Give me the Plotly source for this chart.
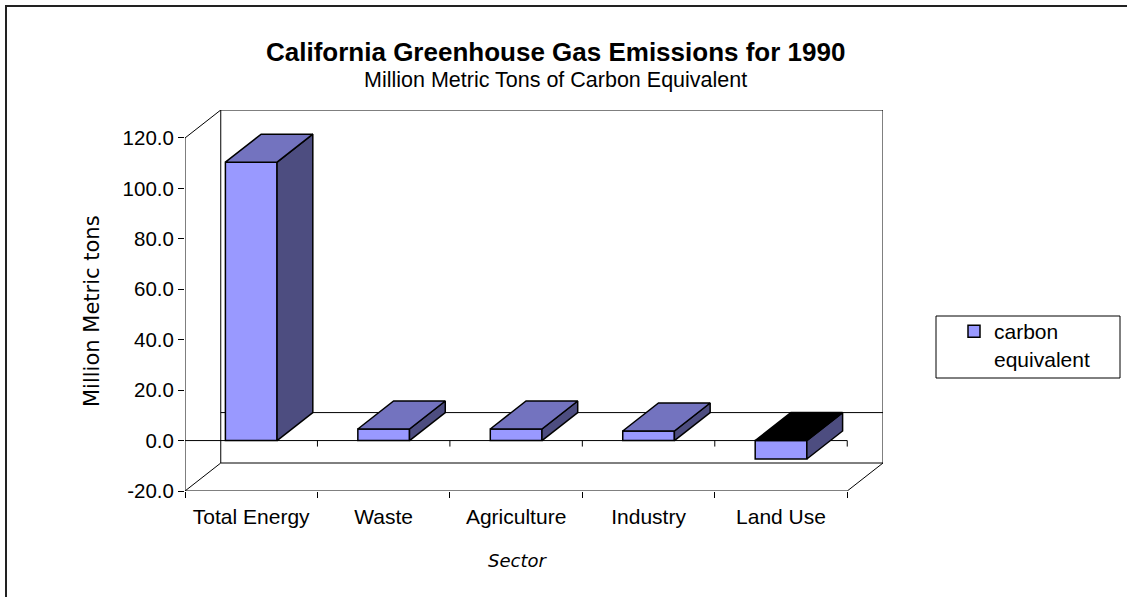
import plotly.graph_objects as go

# ---------------- data ----------------
categories = ["Total Energy", "Waste", "Agriculture", "Industry", "Land Use"]
carbon_equivalent = [110.4, 4.6, 4.6, 3.8, -7.3]
y_tick_values = [-20, 0, 20, 40, 60, 80, 100, 120]
y_tick_labels = ["-20.0", "0.0", "20.0", "40.0", "60.0", "80.0", "100.0", "120.0"]
series_name = "carbon<br>equivalent"
title_text = "California Greenhouse Gas Emissions for 1990"
subtitle_text = "Million Metric Tons of Carbon Equivalent"
y_title = "Million Metric tons"
x_title = "Sector"

# ---------------- style / geometry ----------------
W, H = 1127, 597
L, R, T, B = 185, 244, 110, 106
PW, PH = W - L - R, H - T - B
DX = 0.27     # 3D depth, x units
DY = 11.1     # 3D depth, y units
BAR_W = 0.39
FRONT, TOPC, SIDE = "#9999FF", "#7373BF", "#4D4D80"
FONT = "Arial, Liberation Sans, sans-serif"
COMIC = "Comic Sans MS, DejaVu Sans, sans-serif"

n = len(categories)
x_pos = list(range(n))
x_lo, x_hi = -0.5, n - 0.5
y_lo, y_hi = min(y_tick_values), max(y_tick_values)
boundaries = [x_lo + k for k in range(n + 1)]
y_per_px = (y_hi + DY - y_lo) / PH
tick_len_units = 6 * y_per_px


def px(xp):
    return (xp - L) / PW


def py(yp):
    return (H - B - yp) / PH


fig = go.Figure()

# front faces: real bars
fig.add_trace(go.Bar(
    x=x_pos, y=carbon_equivalent, width=BAR_W, name=series_name,
    marker=dict(color=FRONT, line=dict(color="black", width=1.5)),
    hoverinfo="skip", showlegend=True,
))

# 3D side and top faces derived from values
for i, v in enumerate(carbon_equivalent):
    top, bot = max(v, 0), min(v, 0)
    xl, xr = i - BAR_W / 2, i + BAR_W / 2
    fig.add_trace(go.Scatter(
        x=[xr, xr, xr + DX, xr + DX, xr],
        y=[bot, top, top + DY, bot + DY, bot],
        fill="toself", fillcolor=SIDE, mode="lines",
        line=dict(color="black", width=1.5),
        showlegend=False, hoverinfo="skip"))
    fig.add_trace(go.Scatter(
        x=[xl, xl + DX, xr + DX, xr, xl],
        y=[top, top + DY, top + DY, top, top],
        fill="toself", fillcolor=TOPC if v >= 0 else "black", mode="lines",
        line=dict(color="black", width=1.5),
        showlegend=False, hoverinfo="skip"))

# invisible trace for the label axis
fig.add_trace(go.Scatter(x=x_pos, y=[None] * n, xaxis="x2", mode="markers",
                         showlegend=False, hoverinfo="skip"))

shapes = []
ln = dict(color="black", width=1)


def seg(x0, y0, x1, y1, line=ln):
    shapes.append(dict(type="line", xref="x", yref="y", x0=x0, y0=y0, x1=x1, y1=y1,
                       line=line, layer="below"))


# back wall
shapes.append(dict(type="rect", xref="x", yref="y", x0=x_lo + DX, y0=y_lo + DY,
                   x1=x_hi + DX, y1=y_hi + DY, line=ln, layer="below"))
seg(x_lo, y_hi, x_lo + DX, y_hi + DY)
seg(x_lo, y_lo, x_lo, y_hi)
seg(x_lo, y_lo, x_hi, y_lo)
seg(x_lo, y_lo, x_lo + DX, y_lo + DY)
seg(x_hi, y_lo, x_hi + DX, y_lo + DY)
# zero plane
seg(x_lo + DX, DY, x_hi + DX, DY)
seg(x_lo, 0, x_hi, 0)
for b in boundaries[1:]:
    seg(b, 0, b, -tick_len_units)

# outer chart border
shapes.append(dict(type="rect", xref="paper", yref="paper", x0=px(6), y0=py(603),
                   x1=px(1133), y1=py(6), line=dict(color="#222222", width=2),
                   layer="below"))
# legend box
shapes.append(dict(type="rect", xref="paper", yref="paper", x0=px(936), y0=py(378),
                   x1=px(1120), y1=py(316), line=dict(color="black", width=1),
                   layer="below"))

annotations = [
    dict(text="<b>" + title_text + "</b>", xref="paper", yref="paper",
         x=px(555), y=py(52), showarrow=False, xanchor="center", yanchor="middle",
         font=dict(family=FONT, size=26, color="black")),
    dict(text=subtitle_text, xref="paper", yref="paper",
         x=px(555), y=py(80), showarrow=False, xanchor="center", yanchor="middle",
         font=dict(family=FONT, size=21.5, color="black")),
    dict(text=y_title, xref="paper", yref="paper", x=px(92), y=py(311),
         showarrow=False, textangle=-90, xanchor="center", yanchor="middle",
         font=dict(family=COMIC, size=21, color="black")),
    dict(text=x_title, xref="paper", yref="paper", x=px(517), y=py(560),
         showarrow=False, xanchor="center", yanchor="middle",
         font=dict(family=COMIC, size=18, color="black", style="italic")),
]

fig.update_layout(
    width=W, height=H, margin=dict(l=L, r=R, t=T, b=B, pad=0),
    paper_bgcolor="white", plot_bgcolor="white",
    font=dict(family=FONT, size=20, color="black"),
    barmode="overlay",
    xaxis=dict(range=[x_lo, x_hi + DX], tickvals=boundaries,
               ticktext=[""] * len(boundaries), ticks="outside", ticklen=6,
               tickcolor="black", tickwidth=1, showgrid=False, zeroline=False,
               showline=False, fixedrange=True),
    xaxis2=dict(range=[x_lo, x_hi + DX], overlaying="x", side="bottom", anchor="y",
                tickvals=x_pos, ticktext=categories, ticks="", showgrid=False,
                zeroline=False, showline=False, ticklabelstandoff=11,
                tickfont=dict(family=FONT, size=21, color="black")),
    yaxis=dict(range=[y_lo, y_hi + DY], tickvals=y_tick_values, ticktext=y_tick_labels,
               ticks="outside", ticklen=6, tickcolor="black", tickwidth=1,
               showgrid=False, zeroline=False, showline=False,
               tickfont=dict(family=FONT, size=20.5, color="black")),
    legend=dict(x=px(954), y=py(311), xanchor="left", yanchor="top",
                bgcolor="rgba(0,0,0,0)", borderwidth=0, valign="top",
                font=dict(family=FONT, size=21, color="black")),
    shapes=shapes, annotations=annotations,
)

fig.write_html("out.html")
